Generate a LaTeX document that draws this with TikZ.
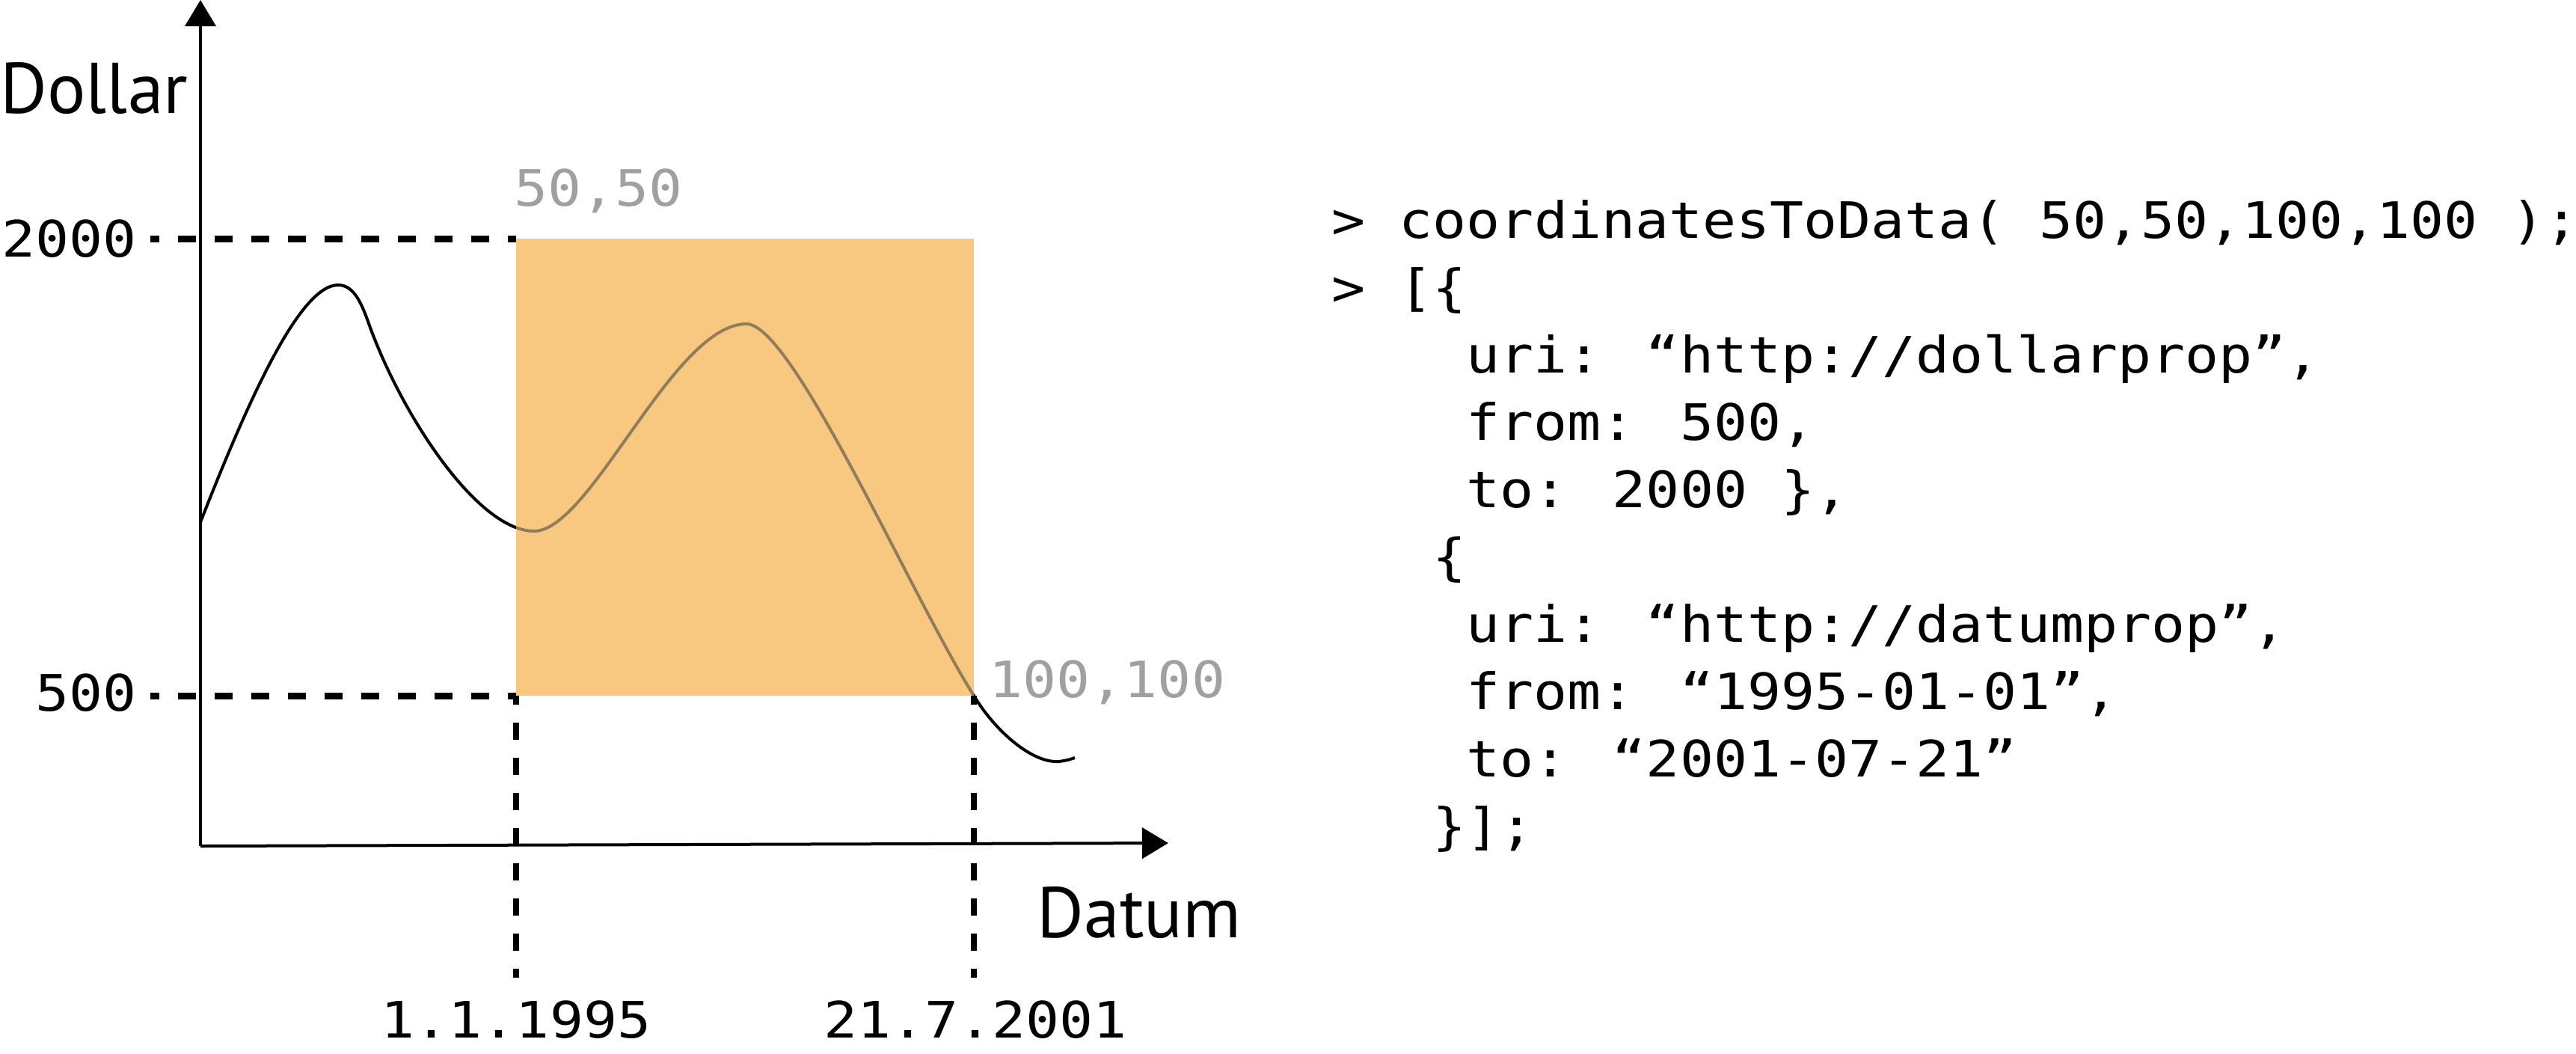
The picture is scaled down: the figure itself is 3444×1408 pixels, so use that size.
\documentclass[tikz,border=0pt]{standalone}
\usepackage{fontspec}
\usetikzlibrary{arrows.meta}
\newfontfamily\labelsans{PT Sans}
\newfontfamily\codemono[FakeStretch=1.116]{DejaVu Sans Mono}
\definecolor{boxorange}{HTML}{F8C880}
\definecolor{curvebrown}{HTML}{917D5B}
\definecolor{labelgray}{HTML}{A0A0A0}
\begin{document}
\begin{tikzpicture}[x=0.01cm,y=-0.01cm,
  axis/.style={line width=0.04cm, -{Triangle[length=0.35cm,width=0.41cm]}},
  hdash/.style={line width=0.09cm, dash pattern=on 0.245cm off 0.245cm, dash phase=0.125cm},
  vdash/.style={line width=0.075cm, dash pattern=on 0.235cm off 0.235cm, dash phase=0.115cm},
  curve/.style={line width=0.04cm},
  bigsans/.style={font=\labelsans\fontsize{27.3pt}{32pt}\selectfont, inner sep=0pt, anchor=base west},
  mono/.style={font=\codemono\fontsize{19.07pt}{24pt}\selectfont, inner sep=0pt},
  graylbl/.style={mono, text=labelgray, anchor=base west},
  codeline/.style={mono, anchor=base west}]
\path[use as bounding box, fill=white] (0,0) rectangle (3444,1408);

% coordinates
\coordinate (origin) at (268,1131);
\coordinate (ytop) at (268,0);
\coordinate (xend) at (1562,1127);
\coordinate (rtl) at (690,319);
\coordinate (rbr) at (1302,930);
\coordinate (rbl) at (690,930);
\coordinate (h2000) at (201,319);
\coordinate (h500) at (201,930);
\coordinate (v1995) at (690,1307);
\coordinate (v2001) at (1302,1307);
\coordinate (cstart) at (268,698);
\coordinate (peakA) at (452,381);
\coordinate (bendA) at (495,438);
\coordinate (minA) at (714,710);
\coordinate (peakB) at (998,433);
\coordinate (minB) at (1415,1018);
\coordinate (cend) at (1437,1013);

% curve (black)
\draw[curve] (cstart) .. controls (330,540) and (400,381) .. (peakA)
  .. controls (475,381) and (485,410) .. (bendA)
  .. controls (540,560) and (640,710) .. (minA)
  .. controls (790,710) and (900,433) .. (peakB)
  .. controls (1060,433) and (1220,800) .. (rbr)
  .. controls (1331,978) and (1380,1020) .. (minB)
  .. controls (1425,1017) and (1431,1015) .. (cend);

% orange box
\fill[boxorange] (rtl) rectangle (rbr);

% curve part inside the box
\begin{scope}
\clip (rtl) rectangle (rbr);
\draw[curve, curvebrown] (bendA)
  .. controls (540,560) and (640,710) .. (minA)
  .. controls (790,710) and (900,433) .. (peakB)
  .. controls (1060,433) and (1220,800) .. (rbr);
\end{scope}

% axes
\draw[axis] (origin) -- (ytop);
\draw[axis] (origin) -- (xend);

% dashed guides
\draw[hdash] (h2000) -- (rtl);
\draw[hdash] (h500) -- (rbl);
\draw[vdash] (rbl) -- (v1995);
\draw[vdash] (rbr) -- (v2001);

% labels
\node[bigsans] (dollar) at (0,151) {Dollar};
\node[bigsans] (datum) at (1386,1253) {Datum};
\node[mono, anchor=base east] (l2000) at (183,343) {2000};
\node[mono, anchor=base east] (l500) at (183,950) {500};
\node[graylbl] (l5050) at (687,275) {50,50};
\node[graylbl] (l100) at (1322,932) {100,100};
\node[mono, anchor=base] (d1995) at (690,1387) {1.1.1995};
\node[mono, anchor=base] (d2001) at (1304,1387) {21.7.2001};

% code
\node[codeline] (code1) at (1780,318) {> coordinatesToData( 50,50,100,100 );};
\node[codeline] (code2) at (1780,408) {> [\{};
\node[codeline] (code3) at (1960,498) {uri: “http://dollarprop”,};
\node[codeline] (code4) at (1960,588) {from: 500,};
\node[codeline] (code5) at (1960,678) {to: 2000 \},};
\node[codeline] (code6) at (1915,768) {\{};
\node[codeline] (code7) at (1960,858) {uri: “http://datumprop”,};
\node[codeline] (code8) at (1960,948) {from: “1995-01-01”,};
\node[codeline] (code9) at (1960,1038) {to: “2001-07-21”};
\node[codeline] (code10) at (1915,1128) {\}];};
\end{tikzpicture}
\end{document}
